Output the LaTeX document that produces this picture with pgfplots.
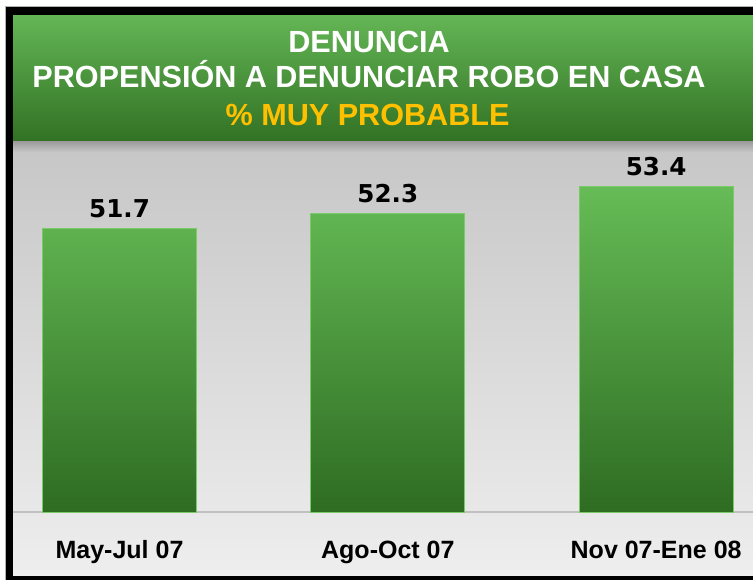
\documentclass[border=0pt]{standalone}
\usepackage{fontspec}
\setmainfont{Liberation Sans}
\newfontfamily\dejavu{DejaVu Sans}
\usepackage{pgfplots}
\usepackage{pgfplotstable}
\pgfplotsset{compat=1.18}

\definecolor{hdtop}{RGB}{100,182,86}
\definecolor{hdbot}{RGB}{50,114,36}
\definecolor{bartop}{RGB}{102,188,86}
\definecolor{barbot}{RGB}{46,108,34}
\definecolor{baredge}{RGB}{122,202,104}
\definecolor{bgtop}{RGB}{198,198,198}
\definecolor{bgbot}{RGB}{238,238,238}
\definecolor{shadow}{RGB}{150,150,150}
\definecolor{gold}{RGB}{255,192,0}

% value in % muy probable, one row per period
\pgfplotstableread{
x v
0 51.7
1 52.3
2 53.4
}\denuncia

\begin{document}
\begin{tikzpicture}
\clip (0,0) rectangle (376.5pt,-289.5pt);
\fill[white] (0,0) rectangle (376.5pt,-289.5pt);
% frame
\draw[gray!60, line width=0.4pt] (2.6pt,-3.1pt) rectangle (400pt,-300pt);
\fill[black] (3pt,-3.5pt) rectangle (400pt,-300pt);
% plot background
\shade[top color=bgtop, bottom color=bgbot] (6.5pt,-70pt) rectangle (376.5pt,-287.5pt);
\shade[top color=shadow, bottom color=bgtop] (6.5pt,-70pt) rectangle (376.5pt,-76pt);
% header band
\shade[top color=hdtop, bottom color=hdbot] (6.5pt,-7.5pt) rectangle (376.5pt,-70pt);
\begin{scope}[every node/.style={anchor=base, inner sep=0pt,
    font=\fontsize{15.3}{18}\selectfont\bfseries}]
  \node[white] at (184.5pt,-26pt) {DENUNCIA};
  \node[white] at (184.5pt,-43.5pt) {PROPENSIÓN A DENUNCIAR ROBO EN CASA};
  \node[text=gold] at (183.8pt,-62.5pt) {\% MUY PROBABLE};
\end{scope}

\begin{axis}[
  at={(6.5pt,-256pt)}, anchor=south west,
  scale only axis, width=370pt, height=186pt,
  ybar, bar width=0.5735,
  xmin=-0.397, xmax=2.361,
  ymin=0, ymax=15.33,
  enlargelimits=false,
  clip=false,
  hide y axis,
  axis x line*=bottom,
  x axis line style={-, draw={rgb,255:red,192;green,192;blue,192}, line width=0.6pt},
  xtick={0,1,2},
  xticklabels={May-Jul 07, Ago-Oct 07, Nov 07-Ene 08},
  major tick length=0pt,
  xticklabel style={font=\fontsize{12.5}{14}\selectfont\bfseries,
    anchor=base, yshift=-23pt},
  point meta=explicit symbolic,
  nodes near coords,
  every node near coord/.append style={inner sep=0pt, yshift=5pt,
    font=\dejavu\bfseries\fontsize{12.3}{14}\selectfont},
]
% bars rise from 40 (the axis baseline)
\addplot[top color=bartop, bottom color=barbot, draw=baredge, line width=0.5pt]
  table[x=x, y expr=\thisrow{v}-40, meta=v] {\denuncia};
\end{axis}
\end{tikzpicture}
\end{document}
